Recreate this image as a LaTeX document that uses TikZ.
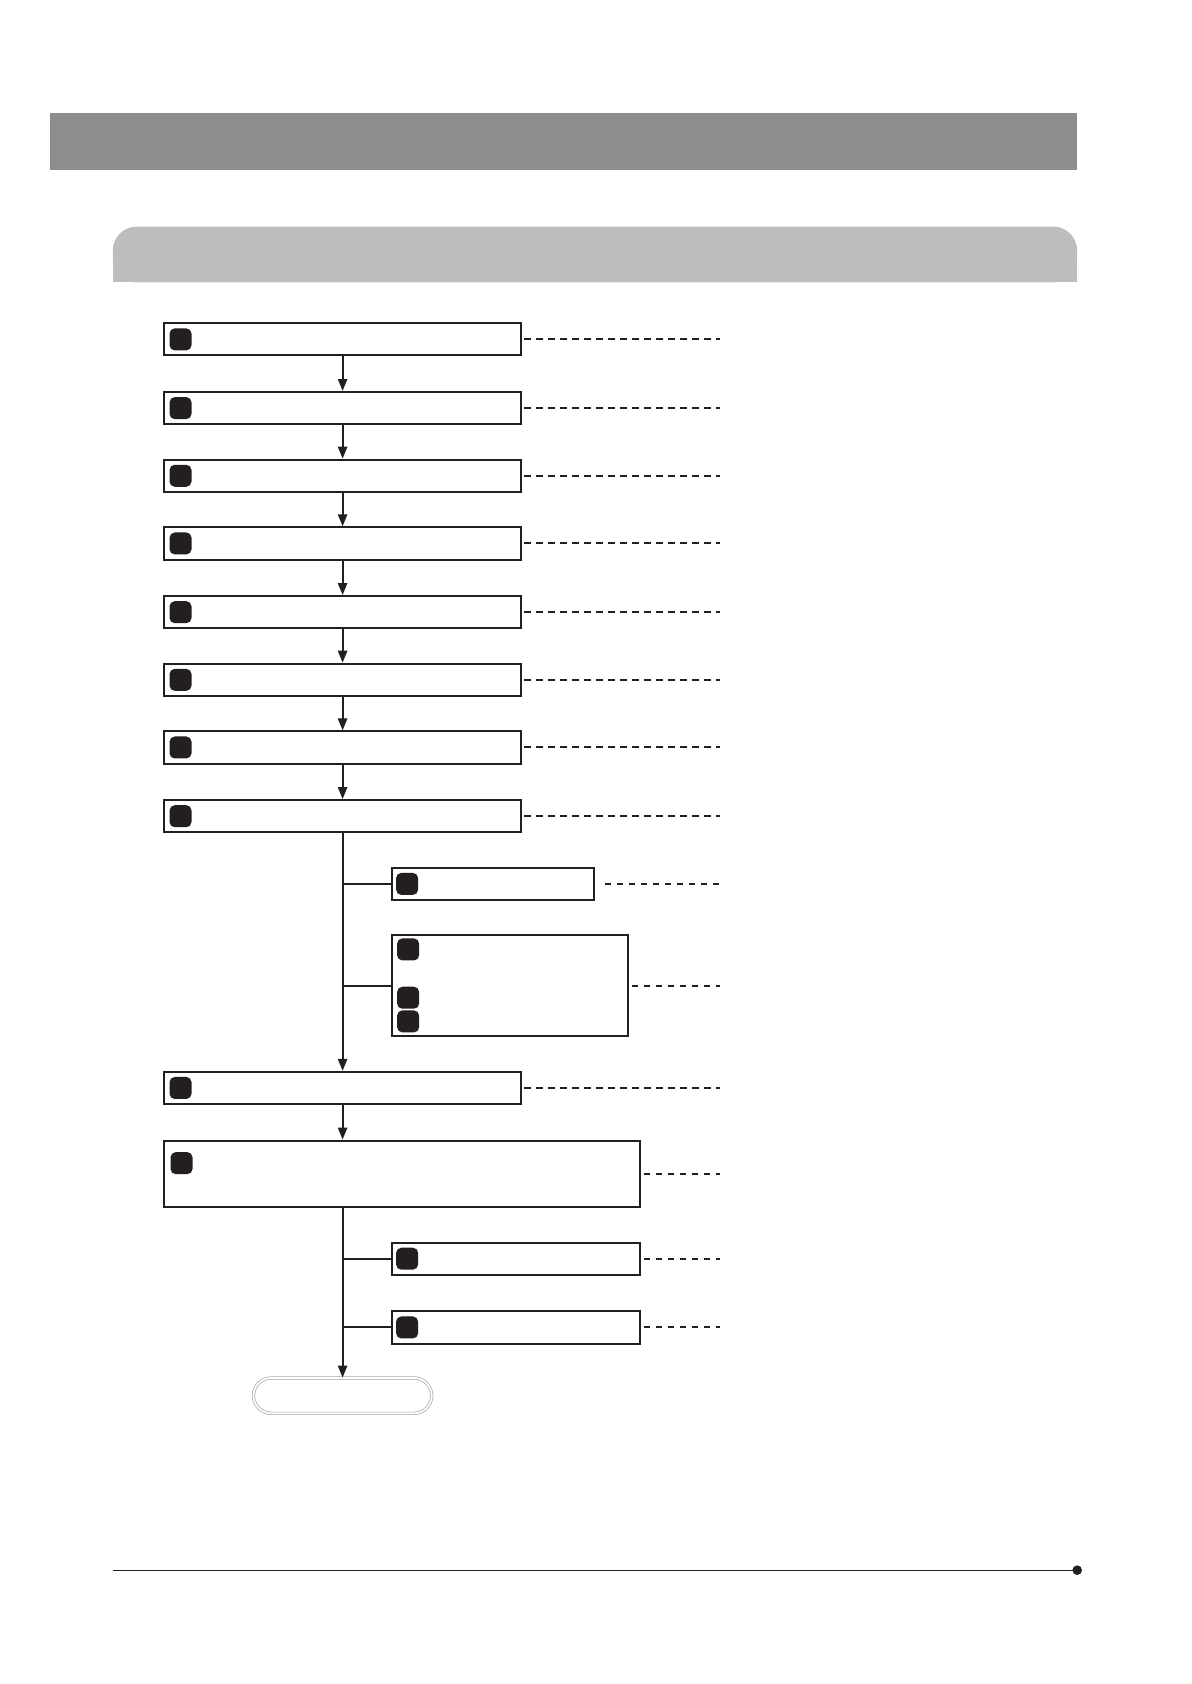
\documentclass[tikz,border=0pt]{standalone}
\usetikzlibrary{arrows.meta,shapes.misc}
\definecolor{hdr}{HTML}{8E8C8D}
\definecolor{subhdr}{HTML}{BDBDBD}
\definecolor{ink}{HTML}{231F20}
\begin{document}
\begin{tikzpicture}[x=0.53696pt,y=-0.53696pt,
  box/.style={draw=ink, line width=1pt, fill=white, rectangle, inner sep=0pt},
  mainbox/.style={box, minimum width=178.27pt, minimum height=16.11pt},
  badge/.style={fill=ink, rounded corners=2.6pt, minimum size=11pt, inner sep=0pt},
  dashline/.style={line width=1pt, dash pattern=on 3.3pt off 2.7pt, ink},
  link/.style={line width=1pt, ink},
  arr/.style={link, -{Triangle[width=4.6pt,length=6pt]}},
]
\useasboundingbox (0,0) rectangle (1109,1568);
% header bars
\fill[hdr] (47,105) rectangle (1003,158);
\fill[subhdr, rounded corners=12pt] (105,211) rectangle (1003,263);
\fill[subhdr] (105,240) rectangle (1003,263);
% right end of dashed leaders
\coordinate (dx) at (670,0);
% main column
\foreach \i/\y in {1/316,2/380,3/443,4/506,5/570,6/633,7/696,8/760,9/1013}{
  \node[mainbox] (b\i) at (319,\y) {};
  \node[badge] (k\i) at ([xshift=8.6pt]b\i.west) {};
  \draw[dashline] ([xshift=1.2pt]b\i.east) -- (b\i.east -| dx);
}
\foreach \i/\j in {1/2,2/3,3/4,4/5,5/6,6/7,7/8}{
  \draw[arr] (b\i.south) -- (b\j.north);
}
% side boxes
\node[box, minimum width=100.95pt, minimum height=16.11pt] (sa) at (459,823) {};
\node[badge] (ka) at ([xshift=8.05pt]sa.west) {};
\node[box, minimum width=118.13pt, minimum height=50.47pt] (sb) at (475,918) {};
\node[badge] (kb1) at (380,884) {};
\node[badge] (kb2) at (380,929) {};
\node[badge] (kb3) at (380,951) {};
\draw[dashline] ([xshift=4.8pt]sa.east) -- (sa.east -| dx);
\draw[dashline] ([xshift=1.2pt]sb.east) -- (sb.east -| dx);
\draw[arr] (b8.south) -- (b9.north);
\draw[link] (sa.west -| b8.south) -- (sa.west);
\draw[link] (sb.west -| b8.south) -- (sb.west);
% wide box
\node[box, minimum width=237.87pt, minimum height=33.29pt] (b10) at (374.5,1093) {};
\node[badge] (k10) at (169,1083) {};
\draw[dashline] ([xshift=1.2pt]b10.east) -- (b10.east -| dx);
\draw[arr] (b9.south) -- (b10.north -| b9.south);
% lower side boxes
\node[box, minimum width=124.04pt, minimum height=16.11pt] (sc) at (480.5,1172) {};
\node[badge] (kc) at ([xshift=8.05pt]sc.west) {};
\node[box, minimum width=124.04pt, minimum height=16.11pt] (sd) at (480.5,1236) {};
\node[badge] (kd) at ([xshift=8.05pt]sd.west) {};
\draw[dashline] ([xshift=1.2pt]sc.east) -- (sc.east -| dx);
\draw[dashline] ([xshift=1.2pt]sd.east) -- (sd.east -| dx);
% terminator
\node[rounded rectangle, draw=gray!70, double=white, double distance=0.9pt, line width=0.35pt,
  minimum width=89.1pt, minimum height=17.7pt, inner sep=0pt] (end) at (319,1299.5) {};
\draw[arr] (b10.south -| b9.south) -- (end.north);
\draw[link] (sc.west -| b9.south) -- (sc.west);
\draw[link] (sd.west -| b9.south) -- (sd.west);
% footer
\coordinate (fl) at (105,1462);
\node[circle, fill=ink, inner sep=0pt, minimum size=4.8pt] (fd) at (1003,1462) {};
\draw[line width=0.6pt, ink] (fl) -- (fd.center);
\end{tikzpicture}
\end{document}
